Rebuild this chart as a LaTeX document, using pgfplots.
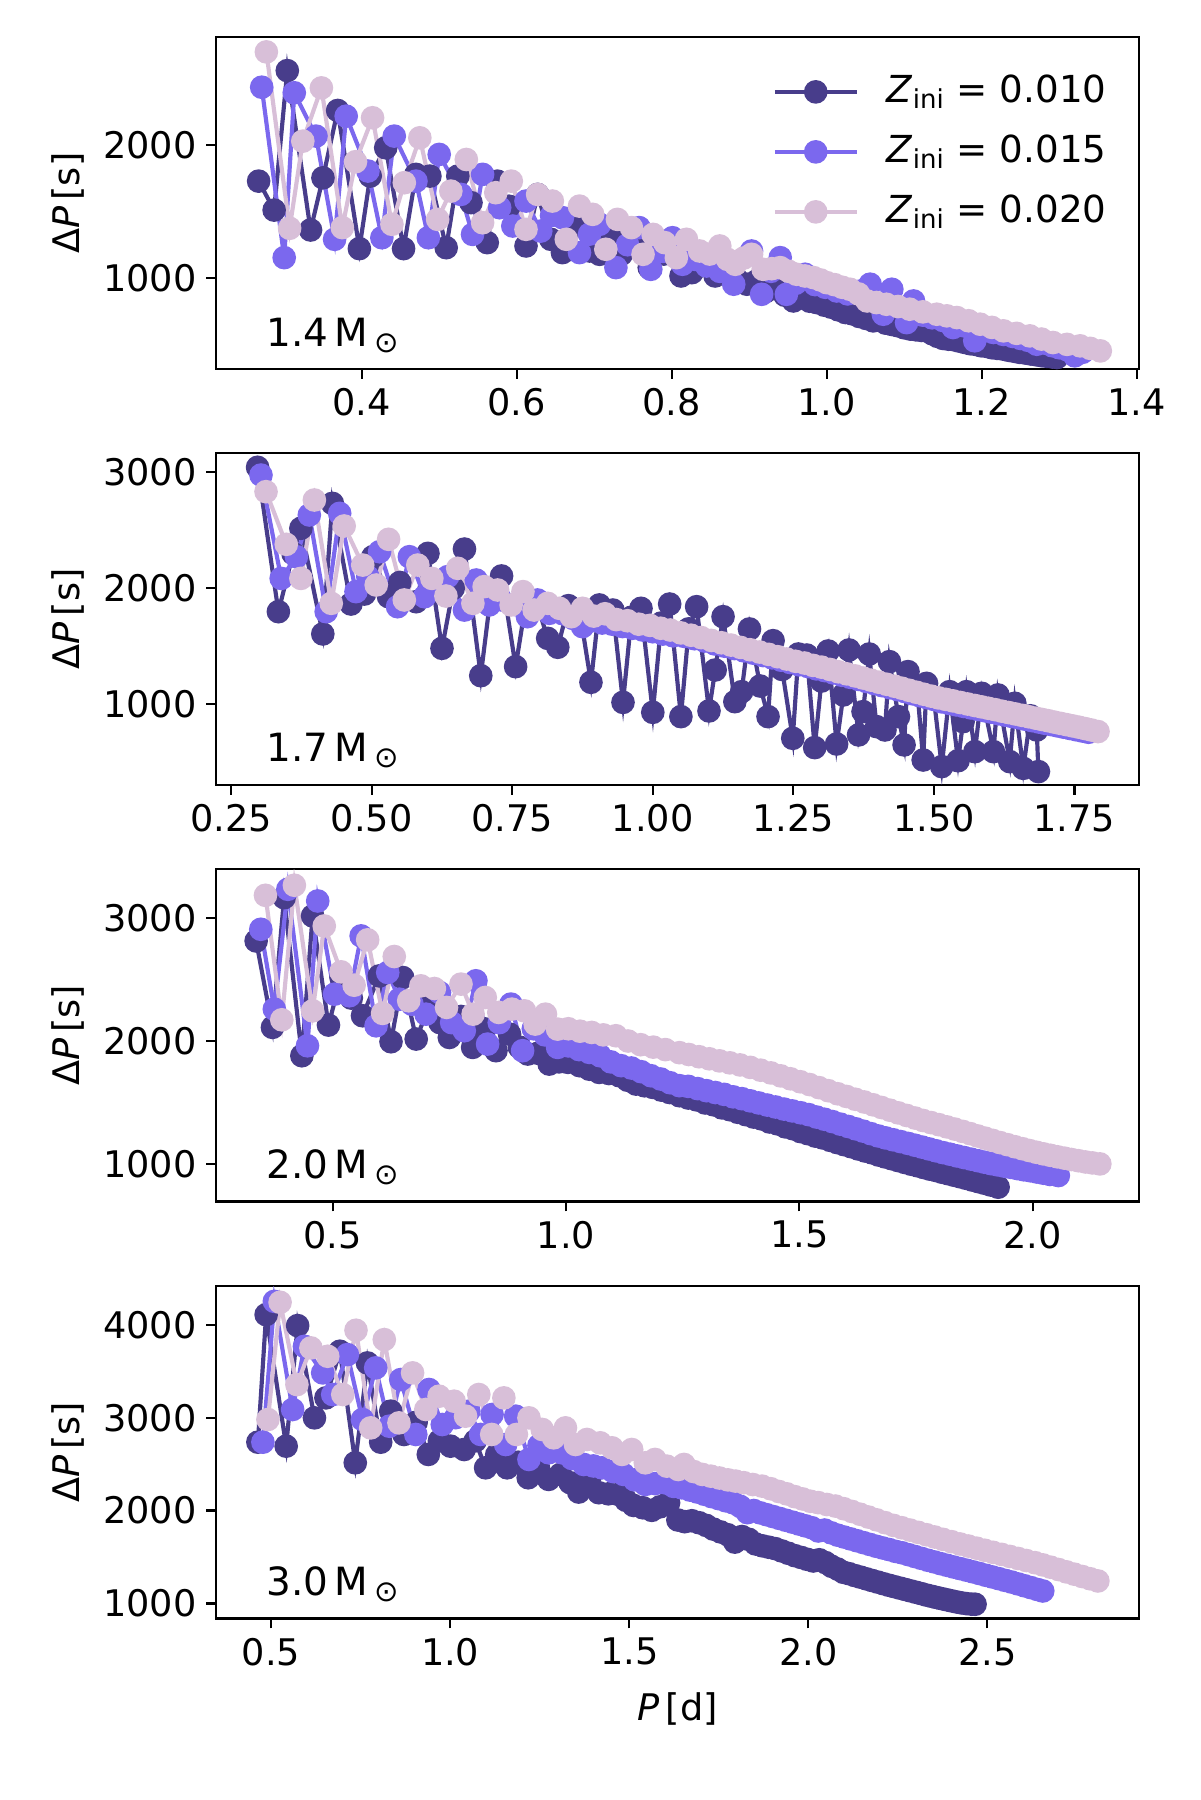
\documentclass[border=0pt]{standalone}
\usepackage{fontspec}
\setmainfont{DejaVu Sans}
\usepackage{pgfplots}
\pgfplotsset{compat=1.18}
\definecolor{cA}{HTML}{483D8B}
\definecolor{cB}{HTML}{7B68EE}
\definecolor{cC}{HTML}{D8BFD8}
\newcommand{\msun}{\,M\hspace{2.2pt}\raisebox{-2.2pt}{\fontsize{10.5}{10.5}\selectfont ⊙}}
\pgfplotsset{
  panel/.style={
    scale only axis, width=332.3pt, height=119.6pt, anchor=north west,
    axis line style={line width=0.8pt}, every tick/.style={black, line width=0.8pt},
    major tick length=3.5pt, tick align=outside, xtick pos=bottom, ytick pos=left,
    ticklabel style={font=\fontsize{13.2}{15.8}\selectfont},
    label style={font=\fontsize{13.2}{15.8}\selectfont},
    /pgf/number format/assume math mode=true,
    scaled ticks=false,
    yticklabel style={/pgf/number format/.cd, fixed, precision=0, 1000 sep={}},
    ylabel={Δ\textit{P}\,[s]},
    clip=true,
  },
  sA/.style={color=cA, line width=1.5pt, mark=*, mark size=3.5pt, mark options={draw=none, fill=cA}},
  sB/.style={color=cB, line width=1.5pt, mark=*, mark size=3.5pt, mark options={draw=none, fill=cB}},
  sC/.style={color=cC, line width=1.5pt, mark=*, mark size=3.5pt, mark options={draw=none, fill=cC}},
}
\begin{document}
\begin{tikzpicture}
\useasboundingbox (0,0) rectangle (432pt,-648pt);
% ---------------- Panel 1: 1.4 Msun
\begin{axis}[panel, at={(77.76pt,-13.32pt)},
  xmin=0.212, xmax=1.403, ymin=313, ymax=2814,
  xtick={0.4,0.6,0.8,1.0,1.2,1.4}, ytick={1000,2000},
  xticklabel style={/pgf/number format/.cd, fixed, fixed zerofill, precision=1},
  legend style={draw=none, fill=none, at={(rel axis cs:1,1)}, xshift=-6.5pt, yshift=-8.8pt,
    anchor=north east, font=\fontsize{13.4}{16}\selectfont, row sep=4.1pt,
    nodes={inner sep=2pt, text height=10.5pt, text depth=3pt},
    /tikz/every odd column/.append style={column sep=8pt}},
  legend cell align=left,
  legend image code/.code={\draw[mark repeat=2, mark phase=2] plot coordinates {(0pt,0pt) (14.75pt,0pt) (29.5pt,0pt)};},
]
\addplot[sA] coordinates {
(0.267,1729)(0.287,1511)(0.304,2561)(0.334,1361)(0.350,1754)(0.369,2261)(0.397,1221)(0.411,1767)
(0.431,1980)(0.454,1221)(0.470,1780)(0.488,1767)(0.509,1228)(0.524,1767)(0.541,1567)(0.562,1266)
(0.575,1729)(0.590,1540)(0.612,1241)(0.627,1629)(0.644,1291)(0.659,1191)(0.676,1390)(0.694,1203)
(0.707,1178)(0.722,1330)(0.735,1178)(0.752,1250)(0.771,1078)(0.790,1180)(0.812,1015)(0.826,1040)
(0.840,1100)(0.856,1015)(0.870,1050)(0.884,990)(0.897,953)(0.910,980)(0.922,900)(0.934,930)
(0.946,870)(0.957,827)(0.968,860)(0.978,825)(0.987,815)(0.997,795)(1.006,780)(1.015,760)
(1.024,740)(1.033,730)(1.042,710)(1.051,695)(1.060,677)(1.068,685)(1.076,660)(1.084,650)
(1.092,640)(1.100,625)(1.108,615)(1.115,610)(1.122,605)(1.129,602)(1.136,580)(1.143,560)
(1.150,545)(1.157,539)(1.164,535)(1.171,525)(1.178,515)(1.185,505)(1.192,500)(1.199,490)
(1.206,485)(1.213,475)(1.220,470)(1.228,464)(1.235,455)(1.242,448)(1.249,440)(1.256,435)
(1.263,428)(1.270,422)(1.277,415)(1.284,410)(1.291,405)(1.297,401)};
\addlegendentry{\textit{Z}\textsubscript{ini} = 0.010}
\addplot[sB] coordinates {
(0.271,2436)(0.300,1153)(0.313,2394)(0.341,2068)(0.365,1291)(0.380,2218)(0.408,1805)(0.426,1303)
(0.442,2068)(0.470,1729)(0.486,1303)(0.500,1930)(0.528,1629)(0.543,1328)(0.556,1780)(0.578,1529)
(0.595,1391)(0.612,1579)(0.631,1353)(0.645,1470)(0.659,1454)(0.681,1191)(0.694,1330)(0.707,1404)
(0.728,1078)(0.743,1250)(0.758,1379)(0.773,1065)(0.788,1200)(0.801,1303)(0.814,1103)(0.830,1140)
(0.845,1090)(0.862,1050)(0.880,953)(0.903,1203)(0.916,877)(0.928,1050)(0.940,1153)(0.948,877)
(0.960,960)(0.972,1028)(0.985,950)(0.998,930)(1.013,902)(1.027,880)(1.042,900)(1.056,953)
(1.073,727)(1.084,915)(1.103,664)(1.112,827)(1.124,720)(1.136,700)(1.150,680)(1.163,627)
(1.177,640)(1.191,527)(1.203,600)(1.215,590)(1.228,575)(1.240,560)(1.250,545)(1.260,530)
(1.271,501)(1.281,510)(1.291,490)(1.300,475)(1.310,460)(1.320,414)(1.330,440)};
\addlegendentry{\textit{Z}\textsubscript{ini} = 0.015}
\addplot[sC] coordinates {
(0.277,2702)(0.307,1374)(0.324,2030)(0.348,2431)(0.375,1379)(0.392,1875)(0.414,2206)(0.439,1404)
(0.455,1717)(0.475,2055)(0.498,1441)(0.515,1654)(0.535,1892)(0.556,1416)(0.573,1642)(0.593,1729)
(0.612,1366)(0.627,1629)(0.646,1579)(0.664,1291)(0.681,1541)(0.698,1479)(0.715,1216)(0.730,1441)
(0.748,1379)(0.763,1178)(0.776,1328)(0.791,1266)(0.806,1153)(0.819,1291)(0.836,1203)(0.849,1180)
(0.862,1241)(0.872,1140)(0.882,1103)(0.893,1150)(0.903,1178)(0.918,1065)(0.929,1070)(0.940,1078)
(0.951,1050)(0.961,1028)(0.972,1015)(0.983,1003)(0.992,985)(1.000,965)(1.010,950)(1.020,930)
(1.030,915)(1.041,880)(1.052,827)(1.064,815)(1.077,802)(1.092,785)(1.107,765)(1.124,745)
(1.142,727)(1.155,715)(1.168,702)(1.183,678)(1.198,652)(1.213,628)(1.228,602)(1.245,583)
(1.262,564)(1.277,540)(1.292,514)(1.310,500)(1.327,489)(1.340,470)(1.353,451)};
\addlegendentry{\textit{Z}\textsubscript{ini} = 0.020}
\node[anchor=base west, inner sep=0pt, font=\fontsize{14}{16}\selectfont] at (rel axis cs:0,0) [xshift=18pt, yshift=8.3pt] {1.4\msun};
\end{axis}
% ---------------- Panel 2: 1.7 Msun
\begin{axis}[panel, at={(77.76pt,-162.97pt)},
  xmin=0.223, xmax=1.865, ymin=304, ymax=3169,
  xtick={0.25,0.5,0.75,1,1.25,1.5,1.75}, ytick={1000,2000,3000},
  xticklabel style={/pgf/number format/.cd, fixed, fixed zerofill, precision=2},
]
\addplot[sA] coordinates {
(0.297,3043)(0.334,1798)(0.360,2300)(0.374,2517)(0.413,1606)(0.430,2732)(0.463,1864)(0.487,1950)
(0.502,2272)(0.530,1927)(0.550,2050)(0.579,1884)(0.600,2301)(0.625,1482)(0.645,2000)(0.665,2338)
(0.694,1246)(0.712,1950)(0.731,2106)(0.756,1324)(0.775,1900)(0.795,1850)(0.813,1568)(0.831,1491)
(0.850,1850)(0.870,1800)(0.890,1189)(0.905,1856)(0.929,1812)(0.947,1016)(0.962,1750)(0.979,1827)
(1.000,930)(1.015,1700)(1.030,1864)(1.050,893)(1.064,1650)(1.078,1841)(1.100,942)(1.111,1295)
(1.125,1755)(1.146,1022)(1.158,1108)(1.172,1649)(1.191,1157)(1.205,893)(1.214,1548)(1.230,1300)
(1.249,706)(1.259,1433)(1.274,1424)(1.288,626)(1.300,1200)(1.312,1459)(1.327,657)(1.339,1080)
(1.349,1468)(1.366,735)(1.374,936)(1.385,1433)(1.398,807)(1.413,778)(1.421,1367)(1.437,893)
(1.447,649)(1.454,1281)(1.470,1150)(1.481,519)(1.487,1180)(1.500,1050)(1.514,462)(1.528,1108)
(1.543,513)(1.552,850)(1.558,1108)(1.573,591)(1.585,1094)(1.606,591)(1.614,1080)(1.635,505)
(1.644,1008)(1.659,447)(1.672,900)(1.683,778)(1.686,419)};
\addplot[sB] coordinates {
(0.303,2976)(0.339,2085)(0.366,2272)(0.389,2632)(0.419,1798)(0.443,2646)(0.472,1971)(0.493,2100)
(0.514,2315)(0.546,1841)(0.567,2272)(0.594,1927)(0.615,2000)(0.635,2100)(0.665,1812)(0.686,2071)
(0.709,1856)(0.730,1900)(0.755,1860)(0.777,1755)(0.795,1899)(0.816,1784)(0.840,1780)(0.858,1740)
(0.875,1669)(0.892,1720)(0.910,1700)(0.928,1690)(0.946,1670)(0.964,1655)(0.982,1640)(1.000,1625)
(1.018,1605)(1.036,1590)(1.056,1585)(1.074,1565)(1.092,1545)(1.110,1520)(1.128,1500)(1.145,1480)
(1.162,1460)(1.179,1440)(1.196,1420)(1.212,1400)(1.228,1380)(1.244,1360)(1.260,1340)(1.276,1325)
(1.291,1305)(1.306,1290)(1.321,1270)(1.336,1250)(1.351,1232)(1.366,1214)(1.380,1196)(1.394,1178)
(1.408,1160)(1.422,1142)(1.436,1125)(1.449,1108)(1.462,1090)(1.475,1073)(1.488,1056)(1.501,1040)
(1.514,1020)(1.527,1007)(1.540,994)(1.553,981)(1.566,968)(1.579,955)(1.591,943)(1.603,931)
(1.615,918)(1.627,906)(1.639,894)(1.651,882)(1.663,870)(1.675,858)(1.687,846)(1.698,835)
(1.709,824)(1.720,813)(1.731,802)(1.742,791)(1.753,780)(1.764,769)(1.775,758)};
\addplot[sC] coordinates {
(0.312,2833)(0.348,2379)(0.374,2085)(0.398,2761)(0.428,1870)(0.451,2537)(0.484,2200)(0.508,2028)
(0.530,2422)(0.558,1899)(0.582,2200)(0.607,2085)(0.632,1933)(0.653,2172)(0.680,1870)(0.700,2014)
(0.724,1985)(0.748,1856)(0.769,1971)(0.789,1812)(0.813,1870)(0.834,1827)(0.855,1755)(0.875,1827)
(0.895,1760)(0.915,1780)(0.935,1730)(0.955,1720)(0.975,1690)(0.995,1680)(1.014,1655)(1.031,1640)
(1.050,1615)(1.068,1595)(1.086,1575)(1.104,1550)(1.122,1530)(1.139,1510)(1.156,1490)(1.173,1470)
(1.190,1450)(1.206,1430)(1.222,1410)(1.238,1390)(1.254,1370)(1.270,1355)(1.285,1335)(1.300,1320)
(1.315,1300)(1.330,1280)(1.345,1262)(1.360,1244)(1.374,1226)(1.388,1208)(1.402,1190)(1.416,1172)
(1.430,1155)(1.443,1138)(1.456,1120)(1.469,1103)(1.482,1086)(1.495,1070)(1.508,1055)(1.521,1042)
(1.534,1029)(1.547,1015)(1.560,1002)(1.573,989)(1.585,977)(1.597,965)(1.609,953)(1.621,940)
(1.633,928)(1.645,916)(1.657,904)(1.669,892)(1.681,880)(1.692,869)(1.703,858)(1.714,846)
(1.725,835)(1.736,824)(1.747,813)(1.758,802)(1.769,790)(1.780,778)(1.792,764)};
\node[anchor=base west, inner sep=0pt, font=\fontsize{14}{16}\selectfont] at (rel axis cs:0,0) [xshift=18pt, yshift=8.3pt] {1.7\msun};
\end{axis}
% ---------------- Panel 3: 2.0 Msun
\begin{axis}[panel, at={(77.76pt,-312.95pt)},
  xmin=0.25, xmax=2.228, ymin=691, ymax=3400,
  xtick={0.5,1,1.5,2}, ytick={1000,2000,3000},
  xticklabel style={/pgf/number format/.cd, fixed, fixed zerofill, precision=1},
]
\addplot[sA] coordinates {
(0.336,2816)(0.371,2111)(0.396,3169)(0.434,1880)(0.457,3020)(0.491,2130)(0.518,2518)(0.540,2350)
(0.564,2206)(0.600,2531)(0.625,1994)(0.650,2518)(0.679,2016)(0.707,2287)(0.730,2150)(0.750,2029)
(0.775,2200)(0.800,1948)(0.825,2100)(0.850,1921)(0.879,2056)(0.900,1950)(0.918,1894)(0.940,1900)
(0.964,1812)(0.985,1830)(1.004,1826)(1.029,1799)(1.050,1770)(1.071,1744)(1.092,1735)(1.114,1717)
(1.132,1680)(1.150,1649)(1.168,1635)(1.186,1622)(1.204,1600)(1.222,1580)(1.243,1554)(1.262,1535)
(1.280,1520)(1.298,1495)(1.316,1480)(1.334,1455)(1.351,1440)(1.368,1419)(1.385,1400)(1.402,1380)
(1.419,1365)(1.436,1340)(1.453,1325)(1.470,1300)(1.486,1285)(1.502,1262)(1.518,1245)(1.534,1225)
(1.550,1210)(1.566,1190)(1.581,1172)(1.596,1155)(1.611,1138)(1.626,1120)(1.641,1103)(1.656,1088)
(1.670,1070)(1.684,1055)(1.698,1040)(1.712,1025)(1.726,1010)(1.740,995)(1.754,982)(1.767,968)
(1.780,955)(1.793,944)(1.806,930)(1.819,918)(1.832,905)(1.845,893)(1.858,880)(1.871,866)
(1.884,853)(1.897,840)(1.910,826)(1.926,808)};
\addplot[sB] coordinates {
(0.346,2911)(0.375,2260)(0.404,3237)(0.446,1961)(0.468,3142)(0.504,2382)(0.536,2369)(0.561,2857)
(0.593,2124)(0.618,2559)(0.643,2341)(0.670,2300)(0.700,2219)(0.729,2396)(0.755,2150)(0.782,2084)
(0.807,2491)(0.832,1975)(0.857,2150)(0.882,2301)(0.907,1921)(0.930,2100)(0.955,2050)(0.982,1948)
(1.005,1960)(1.028,1930)(1.050,1907)(1.073,1880)(1.096,1830)(1.118,1799)(1.140,1780)(1.161,1750)
(1.182,1717)(1.203,1690)(1.223,1660)(1.243,1636)(1.262,1630)(1.282,1612)(1.301,1595)(1.320,1580)
(1.339,1565)(1.358,1545)(1.377,1530)(1.395,1512)(1.413,1495)(1.431,1478)(1.449,1462)(1.467,1445)
(1.485,1430)(1.503,1415)(1.520,1400)(1.537,1380)(1.554,1362)(1.571,1343)(1.588,1322)(1.605,1303)
(1.621,1284)(1.637,1265)(1.653,1245)(1.669,1226)(1.685,1210)(1.701,1195)(1.717,1180)(1.733,1165)
(1.748,1150)(1.763,1135)(1.778,1120)(1.793,1105)(1.808,1090)(1.823,1077)(1.838,1063)(1.853,1050)
(1.868,1037)(1.883,1024)(1.897,1012)(1.911,1000)(1.925,990)(1.939,980)(1.953,970)(1.967,960)
(1.981,950)(1.995,942)(2.009,932)(2.023,922)(2.037,912)(2.055,903)};
\addplot[sC] coordinates {
(0.356,3188)(0.391,2173)(0.418,3270)(0.457,2246)(0.482,2938)(0.518,2564)(0.546,2455)(0.575,2825)
(0.607,2225)(0.632,2689)(0.663,2328)(0.689,2450)(0.718,2428)(0.744,2274)(0.775,2464)(0.801,2219)
(0.827,2355)(0.856,2233)(0.884,2260)(0.911,2246)(0.934,2138)(0.956,2219)(0.982,2097)(1.005,2100)
(1.030,2080)(1.055,2070)(1.080,2050)(1.107,2043)(1.133,2000)(1.160,1970)(1.187,1950)(1.213,1930)
(1.243,1905)(1.263,1890)(1.285,1872)(1.307,1855)(1.329,1838)(1.351,1822)(1.373,1805)(1.395,1785)
(1.417,1762)(1.439,1740)(1.460,1716)(1.481,1692)(1.502,1668)(1.522,1645)(1.542,1620)(1.562,1595)
(1.582,1570)(1.601,1548)(1.620,1525)(1.639,1503)(1.658,1480)(1.676,1458)(1.694,1436)(1.712,1414)
(1.730,1393)(1.748,1372)(1.765,1352)(1.782,1335)(1.799,1318)(1.816,1300)(1.833,1282)(1.850,1263)
(1.866,1245)(1.882,1226)(1.898,1208)(1.914,1190)(1.930,1172)(1.946,1155)(1.962,1138)(1.978,1122)
(1.993,1107)(2.008,1093)(2.023,1080)(2.038,1068)(2.053,1056)(2.068,1045)(2.083,1034)(2.098,1024)
(2.113,1014)(2.128,1006)(2.144,998)};
\node[anchor=base west, inner sep=0pt, font=\fontsize{14}{16}\selectfont] at (rel axis cs:0,0) [xshift=18pt, yshift=8.3pt] {2.0\msun};
\end{axis}
% ---------------- Panel 4: 3.0 Msun
\begin{axis}[panel, at={(77.76pt,-463.07pt)},
  xmin=0.346, xmax=2.924, ymin=837, ymax=4414,
  xtick={0.5,1,1.5,2,2.5}, ytick={1000,2000,3000,4000},
  xticklabel style={/pgf/number format/.cd, fixed, fixed zerofill, precision=1},
  xlabel={\textit{P}\,[d]}, xlabel style={yshift=-2.8pt},
]
\addplot[sA] coordinates {
(0.463,2736)(0.486,4109)(0.542,2693)(0.574,3991)(0.621,2998)(0.653,3213)(0.692,3715)(0.735,2514)
(0.769,3589)(0.806,2736)(0.834,3070)(0.871,2819)(0.905,2950)(0.939,2604)(0.970,2750)(1.001,2693)
(1.039,2657)(1.070,2750)(1.099,2460)(1.130,2600)(1.159,2460)(1.190,2520)(1.218,2353)(1.247,2450)
(1.275,2335)(1.308,2389)(1.335,2300)(1.359,2199)(1.391,2371)(1.415,2192)(1.442,2180)(1.470,2174)
(1.491,2110)(1.512,2055)(1.538,2030)(1.563,2002)(1.586,2040)(1.610,2084)(1.636,1898)(1.655,1880)
(1.675,1890)(1.695,1869)(1.715,1840)(1.735,1800)(1.755,1770)(1.775,1740)(1.795,1660)(1.815,1720)
(1.834,1690)(1.853,1640)(1.872,1620)(1.890,1605)(1.908,1590)(1.926,1565)(1.944,1540)(1.962,1515)
(1.980,1495)(1.997,1475)(2.014,1457)(2.031,1470)(2.048,1440)(2.065,1400)(2.082,1370)(2.098,1335)
(2.114,1320)(2.130,1300)(2.146,1283)(2.162,1265)(2.178,1247)(2.194,1230)(2.210,1212)(2.226,1195)
(2.241,1180)(2.256,1165)(2.271,1150)(2.286,1135)(2.301,1120)(2.316,1105)(2.330,1090)(2.344,1077)
(2.358,1064)(2.372,1052)(2.386,1040)(2.400,1028)(2.414,1016)(2.428,1006)(2.442,998)(2.456,992)
(2.466,991)};
\addplot[sB] coordinates {
(0.477,2736)(0.509,4252)(0.560,3088)(0.593,3768)(0.644,3482)(0.672,3249)(0.713,3679)(0.755,2980)
(0.792,3536)(0.830,2908)(0.862,3410)(0.904,2819)(0.941,3303)(0.978,2926)(1.015,3000)(1.052,3070)
(1.085,2819)(1.117,3034)(1.155,2711)(1.183,3016)(1.220,2550)(1.248,2700)(1.275,2622)(1.312,2622)
(1.340,2560)(1.373,2496)(1.400,2480)(1.424,2460)(1.455,2420)(1.484,2389)(1.515,2330)(1.545,2281)
(1.572,2290)(1.600,2299)(1.624,2260)(1.647,2245)(1.670,2220)(1.690,2200)(1.710,2175)(1.730,2150)
(1.750,2128)(1.770,2105)(1.790,2084)(1.810,2045)(1.830,1977)(1.848,2000)(1.866,1975)(1.884,1955)
(1.902,1935)(1.920,1915)(1.938,1895)(1.956,1875)(1.974,1855)(1.992,1835)(2.010,1815)(2.028,1780)
(2.046,1790)(2.064,1760)(2.082,1735)(2.100,1715)(2.118,1695)(2.136,1675)(2.154,1655)(2.172,1635)
(2.190,1615)(2.208,1597)(2.226,1580)(2.244,1560)(2.262,1545)(2.280,1525)(2.298,1505)(2.316,1485)
(2.334,1465)(2.352,1447)(2.370,1428)(2.388,1410)(2.406,1392)(2.424,1375)(2.442,1358)(2.460,1340)
(2.478,1322)(2.496,1303)(2.514,1285)(2.532,1267)(2.550,1248)(2.568,1230)(2.586,1210)(2.604,1190)
(2.622,1170)(2.640,1150)(2.655,1134)};
\addplot[sC] coordinates {
(0.491,2980)(0.525,4242)(0.572,3356)(0.611,3751)(0.658,3661)(0.700,3249)(0.737,3941)(0.778,2890)
(0.816,3840)(0.857,2944)(0.895,3482)(0.932,3088)(0.969,3231)(1.011,3177)(1.043,3016)(1.080,3249)
(1.116,2819)(1.150,3213)(1.185,2819)(1.220,2998)(1.257,2873)(1.289,2783)(1.322,2890)(1.350,2711)
(1.382,2765)(1.419,2729)(1.452,2675)(1.480,2604)(1.507,2657)(1.545,2514)(1.572,2550)(1.605,2478)
(1.637,2442)(1.653,2496)(1.680,2420)(1.704,2389)(1.728,2370)(1.752,2350)(1.776,2330)(1.797,2317)
(1.820,2300)(1.845,2280)(1.871,2263)(1.895,2235)(1.918,2205)(1.940,2180)(1.962,2150)(1.984,2125)
(2.006,2100)(2.028,2085)(2.052,2065)(2.076,2048)(2.099,2020)(2.122,1990)(2.145,1960)(2.168,1930)
(2.191,1900)(2.214,1870)(2.238,1840)(2.261,1815)(2.284,1790)(2.307,1765)(2.330,1740)(2.353,1715)
(2.376,1690)(2.400,1665)(2.424,1640)(2.447,1618)(2.470,1595)(2.493,1572)(2.516,1550)(2.540,1528)
(2.563,1506)(2.586,1484)(2.609,1462)(2.633,1439)(2.655,1415)(2.677,1390)(2.699,1365)(2.721,1340)
(2.743,1315)(2.765,1290)(2.787,1266)(2.809,1242)};
\node[anchor=base west, inner sep=0pt, font=\fontsize{14}{16}\selectfont] at (rel axis cs:0,0) [xshift=18pt, yshift=8.3pt] {3.0\msun};
\end{axis}
\end{tikzpicture}
\end{document}
